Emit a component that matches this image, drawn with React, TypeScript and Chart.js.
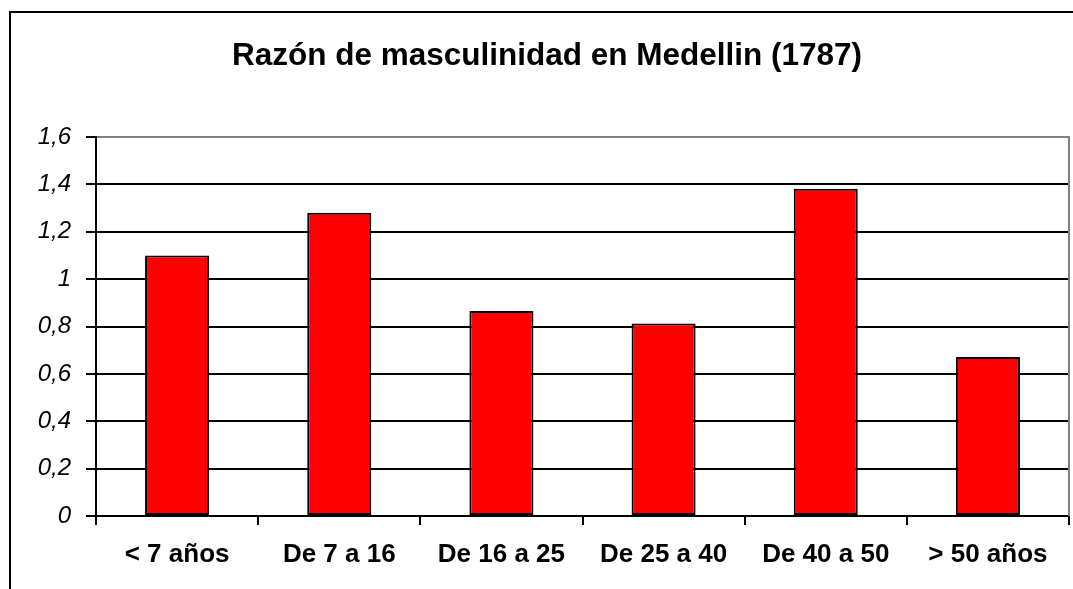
import React, { useEffect, useRef } from "react";
import { Chart, registerables } from "chart.js";

Chart.register(...registerables);

const TITLE = "Razón de masculinidad en Medellin (1787)";
const categories = ["< 7 años", "De 7 a 16", "De 16 a 25", "De 25 a 40", "De 40 a 50", "> 50 años"];
const ratios = [1.1, 1.28, 0.865, 0.813, 1.382, 0.671];
const yTicks = [0, 0.2, 0.4, 0.6, 0.8, 1, 1.2, 1.4, 1.6];

const FONT = '"Liberation Sans", Arial, sans-serif';
const W = 1094;
const H = 589;

const decor = {
  id: "decor",
  afterDraw(chart: any) {
    const ctx = chart.ctx;
    const a = chart.chartArea;
    ctx.save();
    // plot border (gray right)
    ctx.fillStyle = "#808080";
    ctx.fillRect(a.right - 1, a.top - 1, 2, a.bottom - a.top + 1);
    // outer chart border
    ctx.fillStyle = "#000";
    ctx.fillRect(9, 11, W, 2);
    ctx.fillRect(9, 11, 2, H);
    // title
    ctx.font = `bold 31.5px ${FONT}`;
    ctx.textAlign = "center";
    ctx.textBaseline = "alphabetic";
    ctx.fillStyle = "#000";
    ctx.fillText(TITLE, 547, 65);
    ctx.restore();
  },
};

export default function App() {
  const ref = useRef<HTMLCanvasElement | null>(null);
  useEffect(() => {
    if (!ref.current) return;
    const chart = new Chart(ref.current, {
      type: "bar",
      data: {
        labels: categories,
        datasets: [
          {
            data: ratios,
            backgroundColor: "#ff0000",
            borderColor: "#000",
            borderWidth: 2,
            borderSkipped: false,
            categoryPercentage: 1,
            barPercentage: 0.395,
          },
        ],
      },
      options: {
        animation: false,
        responsive: false,
        devicePixelRatio: 1,
        layout: { padding: { left: 0, right: W - 1069, top: 137, bottom: 0 } },
        plugins: { legend: { display: false }, title: { display: false }, tooltip: { enabled: false } },
        scales: {
          x: {
            offset: true,
            afterFit: (s: any) => {
              s.height = H - 516;
            },
            grid: {
              offset: true,
              drawOnChartArea: false,
              drawTicks: true,
              tickLength: 9,
              tickColor: "#000",
              tickWidth: 2,
              color: "#000",
              lineWidth: 2,
            },
            border: { display: true, color: "#000", width: 2 },
            ticks: {
              color: "#000",
              padding: 14,
              maxRotation: 0,
              autoSkip: false,
              font: { family: FONT, size: 26, weight: "bold" },
            },
          },
          y: {
            min: 0,
            max: 1.6,
            afterFit: (s: any) => {
              s.width = 96;
            },
            afterBuildTicks: (s: any) => {
              s.ticks = yTicks.map((v) => ({ value: v }));
            },
            grid: {
              drawTicks: true,
              tickLength: 10,
              tickColor: "#000",
              tickWidth: 2,
              lineWidth: 2,
              color: (c: any) => (c.tick && Math.abs(c.tick.value - 1.6) < 1e-6 ? "#808080" : "#000"),
            },
            border: { display: true, color: "#000", width: 2 },
            ticks: {
              color: "#000",
              padding: 15,
              font: { family: FONT, size: 24, style: "italic" },
              callback: (v: any) => String(Number(Number(v).toFixed(1))).replace(".", ","),
            },
          },
        },
      },
      plugins: [decor],
    });
    return () => chart.destroy();
  }, []);
  return (
    <div style={{ position: "fixed", left: 0, top: 0, width: 1073, height: H, overflow: "hidden", background: "#fff" }}>
      <canvas ref={ref} width={W} height={H} style={{ position: "absolute", left: 0, top: 0, width: W, height: H }} />
    </div>
  );
}
